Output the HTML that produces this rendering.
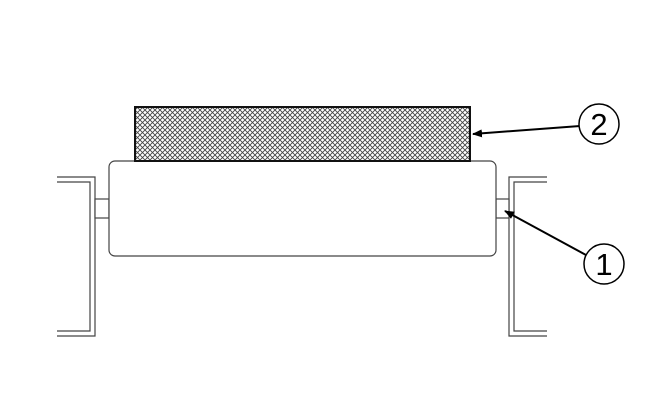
<!DOCTYPE html>
<html><head><style>html,body{margin:0;padding:0;background:#fff;}</style></head>
<body>
<svg width="650" height="401" viewBox="0 0 650 401" xmlns="http://www.w3.org/2000/svg">
<defs>
<pattern id="h" width="5" height="5" patternUnits="userSpaceOnUse">
<rect width="5" height="5" fill="#fff"/>
<path d="M0 0L5 5M5 0L0 5" stroke="#444" stroke-width="0.9"/>
</pattern>
<marker id="a" markerWidth="10" markerHeight="8" refX="9" refY="4" orient="auto" markerUnits="userSpaceOnUse">
<path d="M0 0L10 4L0 8z" fill="#000"/>
</marker>
</defs>
<g fill="none" stroke="#444" stroke-width="1.2">
<polyline points="57,177 95,177 95,336 57,336"/>
<polyline points="57,182 90,182 90,331 57,331"/>
<polyline points="547,177 509,177 509,336 547,336"/>
<polyline points="547,182 514,182 514,331 547,331"/>
<rect x="95" y="199" width="14" height="19" fill="#fff"/>
<rect x="496" y="199" width="13" height="19" fill="#fff"/>
<rect x="109" y="161" width="387" height="95" rx="6" fill="#fff"/>
</g>
<rect x="135" y="107" width="335" height="54" fill="url(#h)" stroke="#111" stroke-width="2"/>
<line x1="580" y1="126" x2="473" y2="134" stroke="#000" stroke-width="2" marker-end="url(#a)"/>
<line x1="586" y1="255" x2="505" y2="211" stroke="#000" stroke-width="2" marker-end="url(#a)"/>
<circle cx="599" cy="124" r="20" fill="#fff" stroke="#000" stroke-width="1.5"/>
<circle cx="604" cy="264" r="20" fill="#fff" stroke="#000" stroke-width="1.5"/>
<text x="599" y="135" font-family="Liberation Sans, sans-serif" font-size="31" text-anchor="middle">2</text>
<text x="604" y="275" font-family="Liberation Sans, sans-serif" font-size="31" text-anchor="middle">1</text>
</svg>
</body></html>
